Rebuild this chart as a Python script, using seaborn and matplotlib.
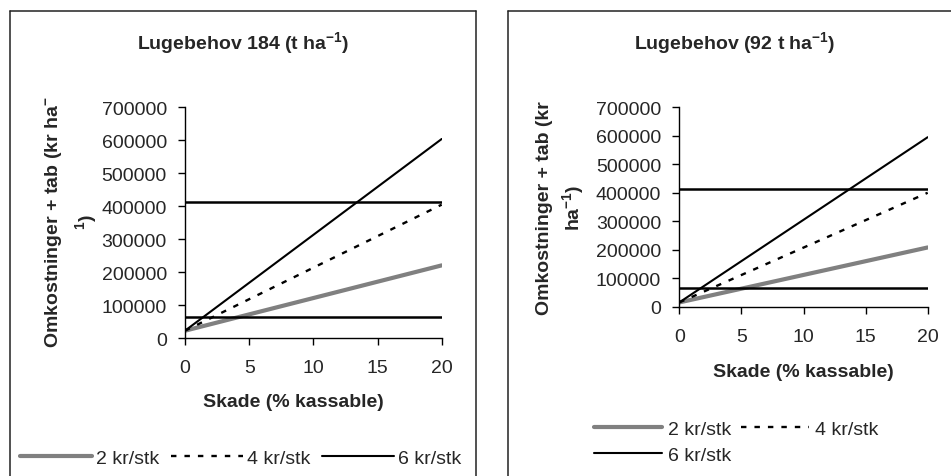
import matplotlib
matplotlib.use("Agg")
import matplotlib.pyplot as plt
from matplotlib.lines import Line2D
import numpy as np
import pandas as pd
import seaborn as sns

# Skade (% kassable) at the ends of each cost line
skade = [0, 20]

# Lugebehov 184 t/ha: omkostninger + tab (kr/ha) per plantepris
omk_184_2kr = [23000, 221000]
omk_184_4kr = [23000, 405000]
omk_184_6kr = [23000, 604000]
ref_184 = [413000, 66000]

# Lugebehov 92 t/ha
omk_92_2kr = [15000, 208000]
omk_92_4kr = [15000, 400000]
omk_92_6kr = [15000, 595000]
ref_92 = [413000, 66000]

series_labels = ["2 kr/stk", "4 kr/stk", "6 kr/stk"]
y_ticks = [0, 100000, 200000, 300000, 400000, 500000, 600000, 700000]
x_ticks = [0, 5, 10, 15, 20]

sns.set_style("ticks")
plt.rcParams["font.family"] = ["Liberation Sans", "DejaVu Sans"]
plt.rcParams["mathtext.fontset"] = "custom"
plt.rcParams["mathtext.rm"] = "Liberation Sans"
plt.rcParams["mathtext.bf"] = "Liberation Sans:bold"
plt.rcParams["mathtext.default"] = "regular"

W, H = 951, 477
fig = plt.figure(figsize=(W / 100, H / 100), dpi=100)


def fx(px):
    return px / W


def fy(py):
    return 1 - py / H


styles = [
    dict(color="#808080", lw=3.0, ls="-"),
    dict(color="black", lw=1.7, ls=(0, (2.3, 3.4))),
    dict(color="black", lw=1.5, ls="-"),
]


def draw_panel(rect, values, refs):
    ax = fig.add_axes(rect)
    handles = []
    for vals, lab, st in zip(values, series_labels, styles):
        df = pd.DataFrame({"skade": skade, "omk": vals})
        sns.lineplot(data=df, x="skade", y="omk", ax=ax, color=st["color"],
                     linewidth=st["lw"], linestyle=st["ls"], legend=False)
        handles.append(Line2D([], [], color=st["color"], lw=st["lw"],
                              ls=st["ls"], label=lab))
    ax.hlines(refs, skade[0], skade[-1], colors="black", lw=1.8)
    ax.set_xlim(0, 20)
    ax.set_ylim(0, 700000)
    ax.set_xticks(x_ticks)
    ax.set_xticklabels([str(t) for t in x_ticks])
    ax.set_yticks(y_ticks)
    ax.set_yticklabels([str(t) for t in y_ticks])
    ax.tick_params(axis="both", labelsize=14, length=5, width=1.0,
                   direction="out", color="black")
    ax.tick_params(axis="x", pad=10)
    ax.tick_params(axis="y", pad=8)
    ax.set_xlabel("")
    ax.set_ylabel("")
    for s in ["top", "right"]:
        ax.spines[s].set_visible(False)
    for s in ["left", "bottom"]:
        ax.spines[s].set_color("black")
        ax.spines[s].set_linewidth(1.0)
    ax.set_facecolor("white")
    return ax, handles


# left chart
axL, hL = draw_panel([fx(185), fy(339.3), fx(441.7) - fx(185), fy(108.3) - fy(339.3)],
                     [omk_184_2kr, omk_184_4kr, omk_184_6kr], ref_184)
# right chart
axR, hR = draw_panel([fx(679.3), fy(307.7), fx(927.7) - fx(679.3), fy(108.3) - fy(307.7)],
                     [omk_92_2kr, omk_92_4kr, omk_92_6kr], ref_92)

# chart-area borders
frame_kw = dict(color="#222222", lw=1.1, transform=fig.transFigure)
fig.add_artist(Line2D([fx(10), fx(10)], [fy(12), 0], **frame_kw))
fig.add_artist(Line2D([fx(10), fx(475.7)], [fy(12), fy(12)], **frame_kw))
fig.add_artist(Line2D([fx(475.7), fx(475.7)], [fy(12), 0], **frame_kw))
fig.add_artist(Line2D([fx(507.7), fx(507.7)], [fy(12), 0], **frame_kw))
fig.add_artist(Line2D([fx(507.7), 1.0], [fy(12), fy(12)], **frame_kw))

# titles
fig.text(fx(243), fy(43), "Lugebehov 184 (t ha$^{-1}$)", ha="center", va="center",
         fontsize=14, fontweight="bold")
fig.text(fx(734.5), fy(43), "Lugebehov (92 t ha$^{-1}$)", ha="center", va="center",
         fontsize=14, fontweight="bold")

# axis titles
fig.text(fx(293), fy(403), "Skade (% kassable)", ha="center", va="center",
         fontsize=14, fontweight="bold")
fig.text(fx(803.5), fy(373), "Skade (% kassable)", ha="center", va="center",
         fontsize=14, fontweight="bold")
fig.text(fx(71), fy(222), "Omkostninger + tab (kr ha$^{-}$\n${}^{1}$)", rotation=90,
         ha="center", va="center", multialignment="center", fontsize=14,
         fontweight="bold", linespacing=1.45)
fig.text(fx(561), fy(208), "Omkostninger + tab (kr\nha$^{-1}$)", rotation=90,
         ha="center", va="center", multialignment="center", fontsize=14,
         fontweight="bold", linespacing=1.4)

# legends
fig.legend(handles=hL, loc="center", bbox_to_anchor=(fx(240.5), fy(459)), ncol=3,
           frameon=False, fontsize=14, handlelength=3.7, handletextpad=0.2,
           columnspacing=0.6, borderpad=0.0)
fig.legend(handles=[hR[0], hR[2], hR[1]], loc="center",
           bbox_to_anchor=(fx(736), fy(443)), ncol=2, frameon=False, fontsize=14,
           handlelength=3.5, handletextpad=0.3, columnspacing=0.5,
           labelspacing=0.45, borderpad=0.0)

fig.savefig("out.png", dpi=100, facecolor="white")
